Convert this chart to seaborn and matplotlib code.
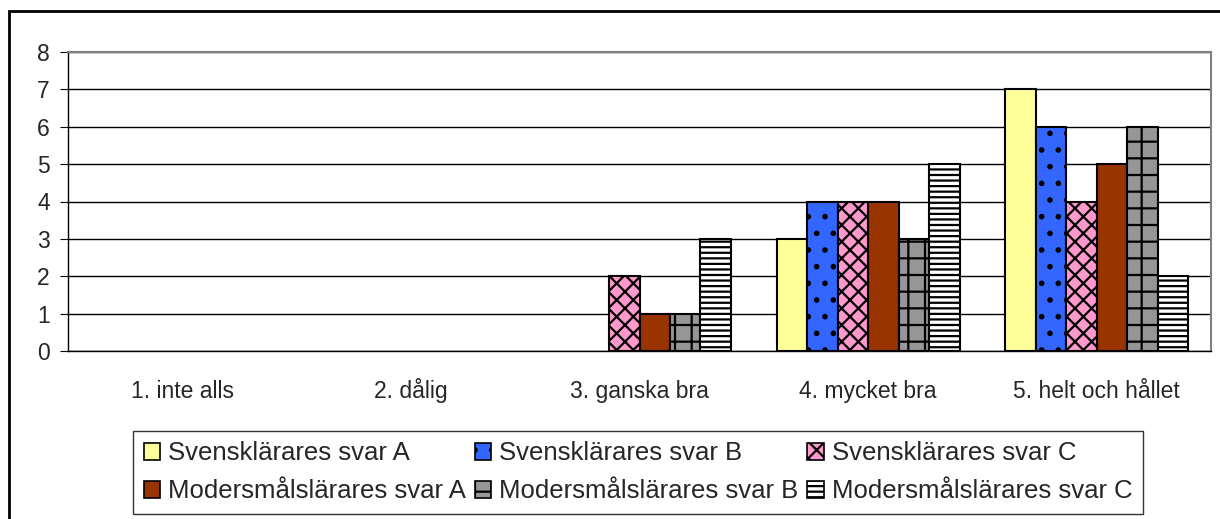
import pandas as pd
import numpy as np
import seaborn as sns
import matplotlib.pyplot as plt
from matplotlib.patches import Rectangle, Patch

categories = ["1. inte alls", "2. dålig", "3. ganska bra", "4. mycket bra", "5. helt och hållet"]
series = ["Svensklärares svar A", "Svensklärares svar B", "Svensklärares svar C",
          "Modersmålslärares svar A", "Modersmålslärares svar B", "Modersmålslärares svar C"]

sv_a = [0, 0, 0, 3, 7]
sv_b = [0, 0, 0, 4, 6]
sv_c = [0, 0, 2, 4, 4]
mo_a = [0, 0, 1, 4, 5]
mo_b = [0, 0, 1, 3, 6]
mo_c = [0, 0, 3, 5, 2]

colors = ["#FFFF99", "#3366FF", "#FF99CC", "#993300", "#969696", "#FFFFFF"]
hatches = [None, ".", "xx", None, "+", "---"]

values = [sv_a, sv_b, sv_c, mo_a, mo_b, mo_c]
rows = []
for name, vals in zip(series, values):
    for cat, v in zip(categories, vals):
        rows.append({"kategori": cat, "serie": name, "antal": v})
df = pd.DataFrame(rows)

sns.set_style("white")
plt.rcParams['font.family'] = ['Liberation Sans', 'DejaVu Sans']
plt.rcParams['hatch.linewidth'] = 1.6

fig = plt.figure(figsize=(12.2, 5.19), dpi=100)
ax = fig.add_axes([68 / 1220, 1 - 351 / 519, (1211 - 68) / 1220, (351 - 52) / 519])

sns.barplot(data=df, x="kategori", y="antal", hue="serie", order=categories,
            hue_order=series, palette=colors, saturation=1, width=0.8,
            edgecolor="black", linewidth=1.5, ax=ax, legend=False)

for cont, h in zip(ax.containers, hatches):
    for bar in cont:
        if bar.get_height() == 0:
            bar.set_visible(False)
        if h:
            bar.set_hatch(h)

ax.set_ylim(0, 8)
ax.set_xlim(-0.5, 4.5)
ax.set_yticks(range(0, 9))
ax.yaxis.grid(True, color="black", linewidth=1)
ax.set_axisbelow(True)
ax.set_xlabel("")
ax.set_ylabel("")

for s in ["top", "right"]:
    ax.spines[s].set_color("#808080")
    ax.spines[s].set_linewidth(1.5)
for s in ["left", "bottom"]:
    ax.spines[s].set_color("black")
    ax.spines[s].set_linewidth(1)

ax.set_xticks(np.arange(0.5, 4.5, 1), minor=True)
ax.tick_params(axis="x", which="major", length=0, pad=34, labelsize=16.5)
ax.tick_params(axis="x", which="minor", length=6, color="black", direction="out")
ax.tick_params(axis="y", length=6, color="black", direction="out", labelsize=16.5, pad=7, left=True)
for lbl in ax.get_xticklabels():
    lbl.set_verticalalignment("baseline")

handles = [Patch(facecolor=c, edgecolor="black", hatch=h, linewidth=1.2) for c, h in zip(colors, hatches)]
order = [0, 3, 1, 4, 2, 5]
leg = fig.legend([handles[i] for i in order], [series[i] for i in order], ncol=3,
                 loc="upper center", bbox_to_anchor=(638 / 1220, 1 - 418 / 519),
                 fancybox=False, edgecolor="black", fontsize=18.5,
                 handlelength=0.65, handleheight=0.65, handletextpad=0.3,
                 columnspacing=0.35, borderpad=0.4, labelspacing=0.55)
leg.get_frame().set_linewidth(1)

fig.add_artist(Rectangle((9 / 1220, -0.1), 1.2, 1.1 - 11 / 519, transform=fig.transFigure,
                         fill=False, edgecolor="black", linewidth=2))

fig.savefig("out.png", dpi=100, facecolor="white")
